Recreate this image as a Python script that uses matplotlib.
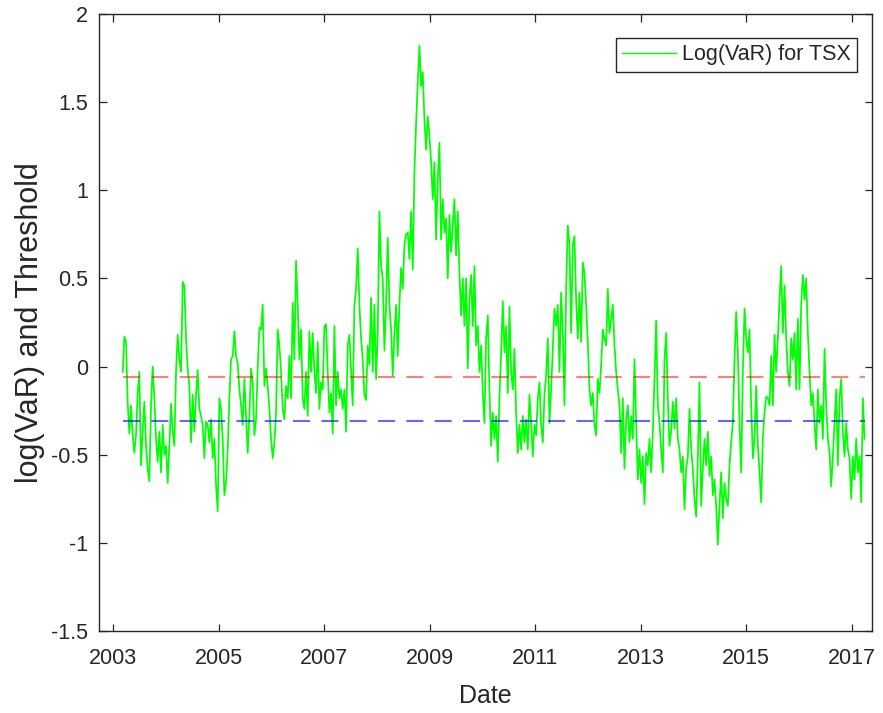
import numpy as np
import pandas as pd
import matplotlib
matplotlib.use("Agg")
import matplotlib.pyplot as plt
import matplotlib.dates as mdates
from matplotlib.ticker import FuncFormatter

# ---- data (log VaR for TSX, ~11-day sampling) ----
seg_2003_2005 = [
    -0.03, 0.17, 0.14, -0.20, -0.38, -0.22, -0.39, -0.49, -0.39, -0.15,
    -0.03, -0.56, -0.37, -0.20, -0.45, -0.58, -0.65, -0.22, 0.00, -0.18,
    -0.41, -0.54, -0.37, -0.60, -0.33, -0.50, -0.45, -0.66, -0.45, -0.21,
    -0.37, -0.45, -0.03, 0.18, 0.04, -0.03, 0.48, 0.46, 0.16, -0.01,
    -0.11, -0.43, -0.16, -0.37, -0.16, -0.02, -0.24, -0.28, -0.33, -0.52,
    -0.31, -0.33, -0.43, -0.30, -0.52, -0.41, -0.67, -0.82, -0.18, -0.24,
    -0.41, -0.73, -0.66, -0.47, -0.18, 0.04, 0.06, 0.20, 0.06, 0.02,
    -0.13, -0.22, -0.33, -0.07, -0.28, -0.49, -0.28, -0.01, -0.09, -0.39,
    -0.30, -0.01, 0.22, 0.21, 0.35, -0.11, -0.01,
]
seg_2006_2008 = [
    -0.11, -0.24, -0.41, -0.52, -0.43, -0.26, 0.21, 0.12, -0.03, -0.24,
    -0.30, -0.11, -0.18, 0.06, -0.18, 0.36, 0.04, 0.60, 0.35, 0.04,
    0.21, -0.18, -0.24, -0.03, -0.28, 0.20, -0.03, 0.19, -0.03, -0.15,
    0.14, -0.24, -0.09, -0.13, 0.23, 0.24, -0.03, -0.26, -0.15, -0.38,
    0.23, -0.22, -0.03, -0.18, -0.13, -0.24, -0.13, -0.37, 0.12, 0.18,
    -0.03, -0.22, 0.35, 0.44, 0.67, 0.35, 0.16, 0.04, -0.16, -0.19,
    0.12, 0.01, 0.39, -0.03, 0.35, -0.07, 0.19, 0.88, 0.57, 0.50,
    0.09, 0.35, 0.73, 0.35, 0.21, -0.05, 0.19, 0.35, 0.06, 0.35,
    0.56, 0.44, 0.69, 0.75, 0.76, 0.61, 0.88, 0.55, 1.10, 1.38,
]
seg_2008_2011 = [
    1.61, 1.82, 1.59, 1.67, 1.40, 1.23, 1.42, 1.31, 1.16, 0.95,
    1.16, 0.72, 1.06, 1.27, 0.72, 0.95, 0.76, 0.84, 0.50, 0.86,
    0.65, 0.80, 0.95, 0.63, 0.88, 0.53, 0.29, 0.50, 0.23, 0.50,
    -0.01, 0.38, 0.52, 0.23, 0.57, 0.12, 0.23, -0.03, 0.12, -0.15,
    -0.32, 0.16, 0.29, -0.13, -0.45, -0.26, -0.41, -0.28, -0.54, -0.18,
    0.08, 0.37, 0.08, 0.23, -0.15, 0.34, -0.03, -0.13, 0.10, -0.26,
    -0.49, -0.33, -0.47, -0.28, -0.43, -0.30, -0.47, -0.16, -0.32, -0.51,
    -0.33, -0.39, -0.18, -0.09, -0.33, -0.43, -0.16, -0.05, 0.16, -0.32,
    -0.13, 0.10, 0.33, 0.23, 0.35, -0.03, 0.42, 0.19, -0.22, 0.44,
]
seg_2011_2014 = [
    0.80, 0.69, 0.19, 0.69, 0.74, 0.38, 0.16, 0.42, 0.14, 0.59,
    0.53, 0.35, 0.14, -0.13, -0.22, -0.15, -0.33, -0.39, -0.07, -0.15,
    0.01, 0.21, 0.16, 0.12, 0.44, 0.19, 0.27, 0.35, 0.12, -0.03,
    -0.13, -0.22, -0.49, -0.18, -0.58, -0.30, -0.22, -0.43, -0.28, -0.41,
    0.04, -0.32, -0.64, -0.47, -0.66, -0.51, -0.78, -0.49, -0.56, -0.41,
    -0.60, -0.37, -0.07, 0.26, -0.22, -0.32, -0.47, -0.60, 0.04, 0.19,
    -0.18, -0.45, -0.37, -0.20, -0.35, -0.18, -0.41, -0.47, -0.60, -0.51,
    -0.81, -0.58, -0.51, -0.24, -0.47, -0.58, -0.75, -0.85, -0.51, -0.09,
    -0.79, -0.58, -0.41, -0.56, -0.37, -0.62, -0.51, -0.73, -0.64, -0.79,
]
seg_2014_2017 = [
    -1.01, -0.79, -0.60, -0.86, -0.66, -0.75, -0.79, -0.56, -0.43, -0.32,
    0.04, 0.31, 0.08, -0.32, -0.60, -0.03, 0.33, 0.16, 0.08, 0.21,
    -0.22, -0.52, -0.41, -0.11, -0.45, -0.60, -0.77, -0.41, -0.26, -0.17,
    -0.18, -0.22, 0.06, -0.22, 0.18, -0.03, 0.16, 0.38, 0.57, 0.19,
    0.46, 0.16, -0.03, -0.11, 0.16, 0.04, 0.19, -0.13, 0.27, -0.13,
    0.35, 0.52, 0.38, 0.50, 0.19, -0.03, -0.22, -0.15, -0.32, -0.47,
    -0.13, -0.32, -0.22, -0.41, 0.10, -0.22, -0.41, -0.49, -0.68, -0.51,
    -0.32, -0.13, -0.56, -0.18, -0.07, -0.37, -0.51, -0.32, -0.47, -0.52,
    -0.75, -0.51, -0.64, -0.41, -0.60, -0.51, -0.77, -0.18, -0.41,
]

threshold_upper = -0.057   # red dashed
threshold_lower = -0.311   # blue dashed

start_date = "2003-03-08"
end_date = "2017-03-30"
tick_years = [2003, 2005, 2007, 2009, 2011, 2013, 2015, 2017]
y_ticks = [-1.5, -1, -0.5, 0, 0.5, 1, 1.5, 2]

log_var = np.concatenate([seg_2003_2005, seg_2006_2008, seg_2008_2011,
                          seg_2011_2014, seg_2014_2017])
dates = pd.date_range(start_date, end_date, periods=len(log_var))

# ---- figure ----
plt.rcParams["font.family"] = ["Liberation Sans", "DejaVu Sans"]
txt = "#262626"

fig = plt.figure(figsize=(8.83, 7.13), dpi=100)
ax = fig.add_axes([0.1121, 0.1150, 0.8760, 0.8654])

line, = ax.plot(dates, log_var, color="#00FF00", lw=1.25,
                label="Log(VaR) for TSX", zorder=2)
ax.plot([dates[0], dates[-1]], [threshold_upper, threshold_upper],
        color="red", alpha=0.5, lw=1.5, linestyle=(0, (8.2, 5.4)), zorder=3)
ax.plot([dates[0], dates[-1]], [threshold_lower, threshold_lower],
        color="blue", alpha=0.6, lw=1.5, linestyle=(0, (8.2, 5.4)), zorder=3)

ax.set_xlim(np.datetime64("2002-09-25"), np.datetime64("2017-05-24"))
ax.set_ylim(-1.5, 2)
ax.set_xticks([np.datetime64(f"{y}-01-01") for y in tick_years])
ax.xaxis.set_major_formatter(mdates.DateFormatter("%Y"))
ax.set_yticks(y_ticks)
ax.yaxis.set_major_formatter(FuncFormatter(lambda v, p: f"{v:g}"))

ax.tick_params(direction="in", length=5.4, width=0.9, top=True, right=True,
               colors=txt, labelsize=15.5)
ax.tick_params(axis="x", pad=12)
ax.tick_params(axis="y", pad=8)
for s in ax.spines.values():
    s.set_linewidth(1.0)
    s.set_color(txt)

ax.set_xlabel("Date", fontsize=18, color=txt, labelpad=11)
ax.set_ylabel("log(VaR) and Threshold", fontsize=22, color=txt, labelpad=4)

leg = ax.legend(handles=[line], loc="upper right",
                bbox_to_anchor=(0.980, 0.961), borderaxespad=0,
                fontsize=15.5, handlelength=2.5, handletextpad=0.25,
                borderpad=0.3, fancybox=False, framealpha=1,
                edgecolor=txt)
leg.get_frame().set_linewidth(1.0)
leg.get_lines()[0].set_linewidth(1.0)
for t in leg.get_texts():
    t.set_color(txt)

fig.savefig("out.png", dpi=100)
